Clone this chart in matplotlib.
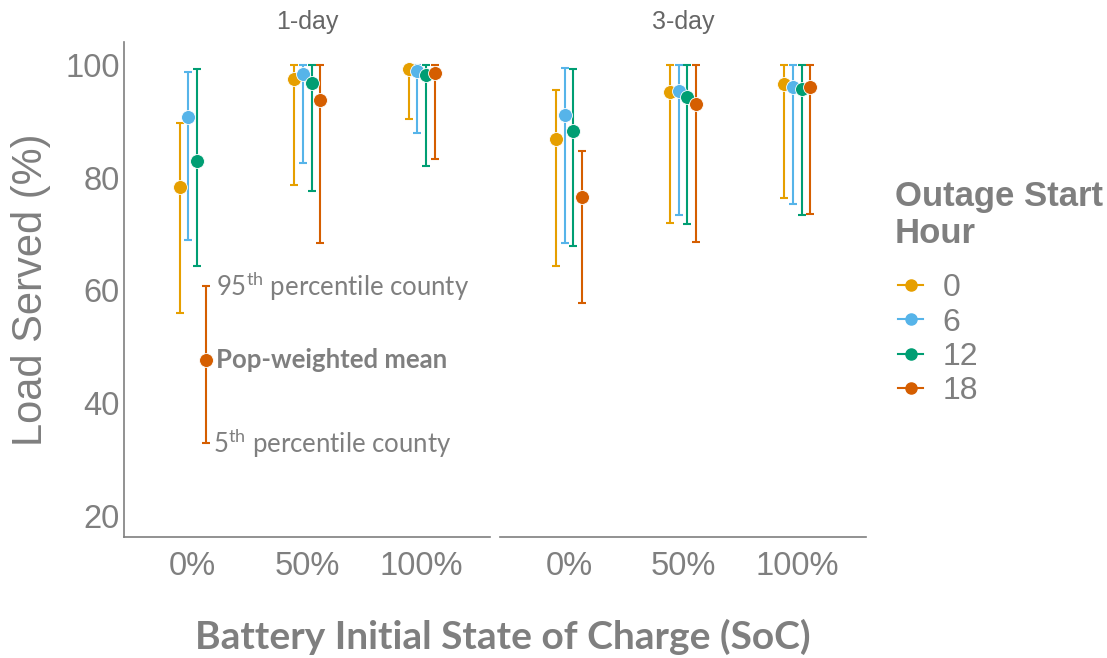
import numpy as np
import matplotlib.pyplot as plt
from matplotlib.lines import Line2D

plt.rcParams['font.family'] = ['Liberation Sans', 'DejaVu Sans']
plt.rcParams['mathtext.fontset'] = 'custom'
plt.rcParams['mathtext.rm'] = 'Lato'

# data
soc_labels = ['0%', '50%', '100%']
hours = ['0', '6', '12', '18']
colors = ['#E69F00', '#56B4E9', '#009E73', '#D55E00']
durations = ['1-day', '3-day']

# rows = outage start hour, cols = battery SoC
mean_1day = [[78.4, 97.4, 99.3], [90.8, 98.3, 98.9], [82.9, 96.8, 98.2], [47.6, 93.7, 98.5]]
lo_1day = [[55.9, 78.7, 90.4], [69.0, 82.6, 87.9], [64.4, 77.6, 82.0], [32.9, 68.4, 83.3]]
hi_1day = [[89.6, 100, 100], [98.7, 100, 100], [99.3, 100, 100], [60.8, 100, 100]]

mean_3day = [[86.9, 95.1, 96.5], [91.1, 95.3, 96.0], [88.3, 94.3, 95.7], [76.5, 93.0, 96.0]]
lo_3day = [[64.3, 72.0, 76.3], [68.4, 73.3, 75.3], [67.8, 71.7, 73.3], [57.7, 68.5, 73.6]]
hi_3day = [[95.6, 100, 100], [99.5, 100, 100], [99.3, 100, 100], [84.7, 100, 100]]

panels = [(mean_1day, lo_1day, hi_1day), (mean_3day, lo_3day, hi_3day)]

GRAY = '#7f7f7f'
fig = plt.figure(figsize=(11.07, 6.58), dpi=100)
ax1 = fig.add_axes([0.112, 0.184, 0.331, 0.752])
ax2 = fig.add_axes([0.452, 0.184, 0.330, 0.752])
axes = [ax1, ax2]

x = np.arange(1, len(soc_labels) + 1)
dodge = [-0.114, -0.038, 0.038, 0.114]

for ax, title, (m, lo, hi) in zip(axes, durations, panels):
    m, lo, hi = np.array(m), np.array(lo), np.array(hi)
    for i in range(len(hours)):
        ax.errorbar(x + dodge[i], m[i], yerr=[m[i] - lo[i], hi[i] - m[i]],
                    fmt='none', ecolor=colors[i], elinewidth=1.5,
                    capsize=3, capthick=1.5, zorder=2)
    for i in range(len(hours)):
        ax.plot(x + dodge[i], m[i], 'o', color=colors[i], ms=10,
                mec='white', mew=0.6, zorder=3)
    ax.set_xlim(0.4, 3.6)
    ax.set_ylim(16.3, 104)
    ax.set_xticks(x)
    ax.set_xticklabels(soc_labels)
    ax.set_yticks([20, 40, 60, 80, 100])
    ax.tick_params(length=0, labelsize=23.5, labelcolor=GRAY)
    ax.tick_params(axis='x', pad=10)
    ax.tick_params(axis='y', pad=3)
    for s in ['top', 'right']:
        ax.spines[s].set_visible(False)
    for s in ['left', 'bottom']:
        ax.spines[s].set_color(GRAY)
        ax.spines[s].set_linewidth(1.2)
    ax.text(0.5, 1.04, title, transform=ax.transAxes, ha='center', va='center',
            fontsize=18, color='#666666')

ax2.spines['left'].set_visible(False)
ax2.set_yticklabels([])
ax1.set_ylabel('Load Served (%)', fontsize=30, color=GRAY, labelpad=10)

fig.text(0.454, 0.032, 'Battery Initial State of Charge (SoC)', ha='center',
         va='center', fontsize=28, fontweight='bold', color=GRAY, family='Lato')

# annotation on the 1-day, 0%, hour 18 bar
ax1.text(1.2, hi_1day[3][0], '95$^{\\mathrm{th}}$ percentile county', fontsize=18.5,
         color=GRAY, family='Lato', va='center', ha='left')
ax1.text(1.2, mean_1day[3][0], 'Pop-weighted mean', fontsize=18.5, color=GRAY,
         family='Lato', fontweight='bold', va='center', ha='left')
ax1.text(1.18, lo_1day[3][0], '5$^{\\mathrm{th}}$ percentile county', fontsize=18.5,
         color=GRAY, family='Lato', va='center', ha='left')

# legend: title as separate text, entries as a figure legend
fig.text(895 / 1107, 1 - 215 / 658, 'Outage Start\nHour', ha='left', va='center',
         fontsize=25, fontweight='bold', color=GRAY, linespacing=1.15)
handles = [Line2D([0], [0], color=c, marker='o', ms=8, lw=1.5) for c in colors]
leg = fig.legend(handles, hours, loc='upper left', bbox_to_anchor=(0.811, 0.585),
                 frameon=False, fontsize=23, borderpad=0, borderaxespad=0,
                 handlelength=0.8, handletextpad=0.6, labelspacing=0.14,
                 labelcolor=GRAY)

fig.savefig('out.png', dpi=100)
